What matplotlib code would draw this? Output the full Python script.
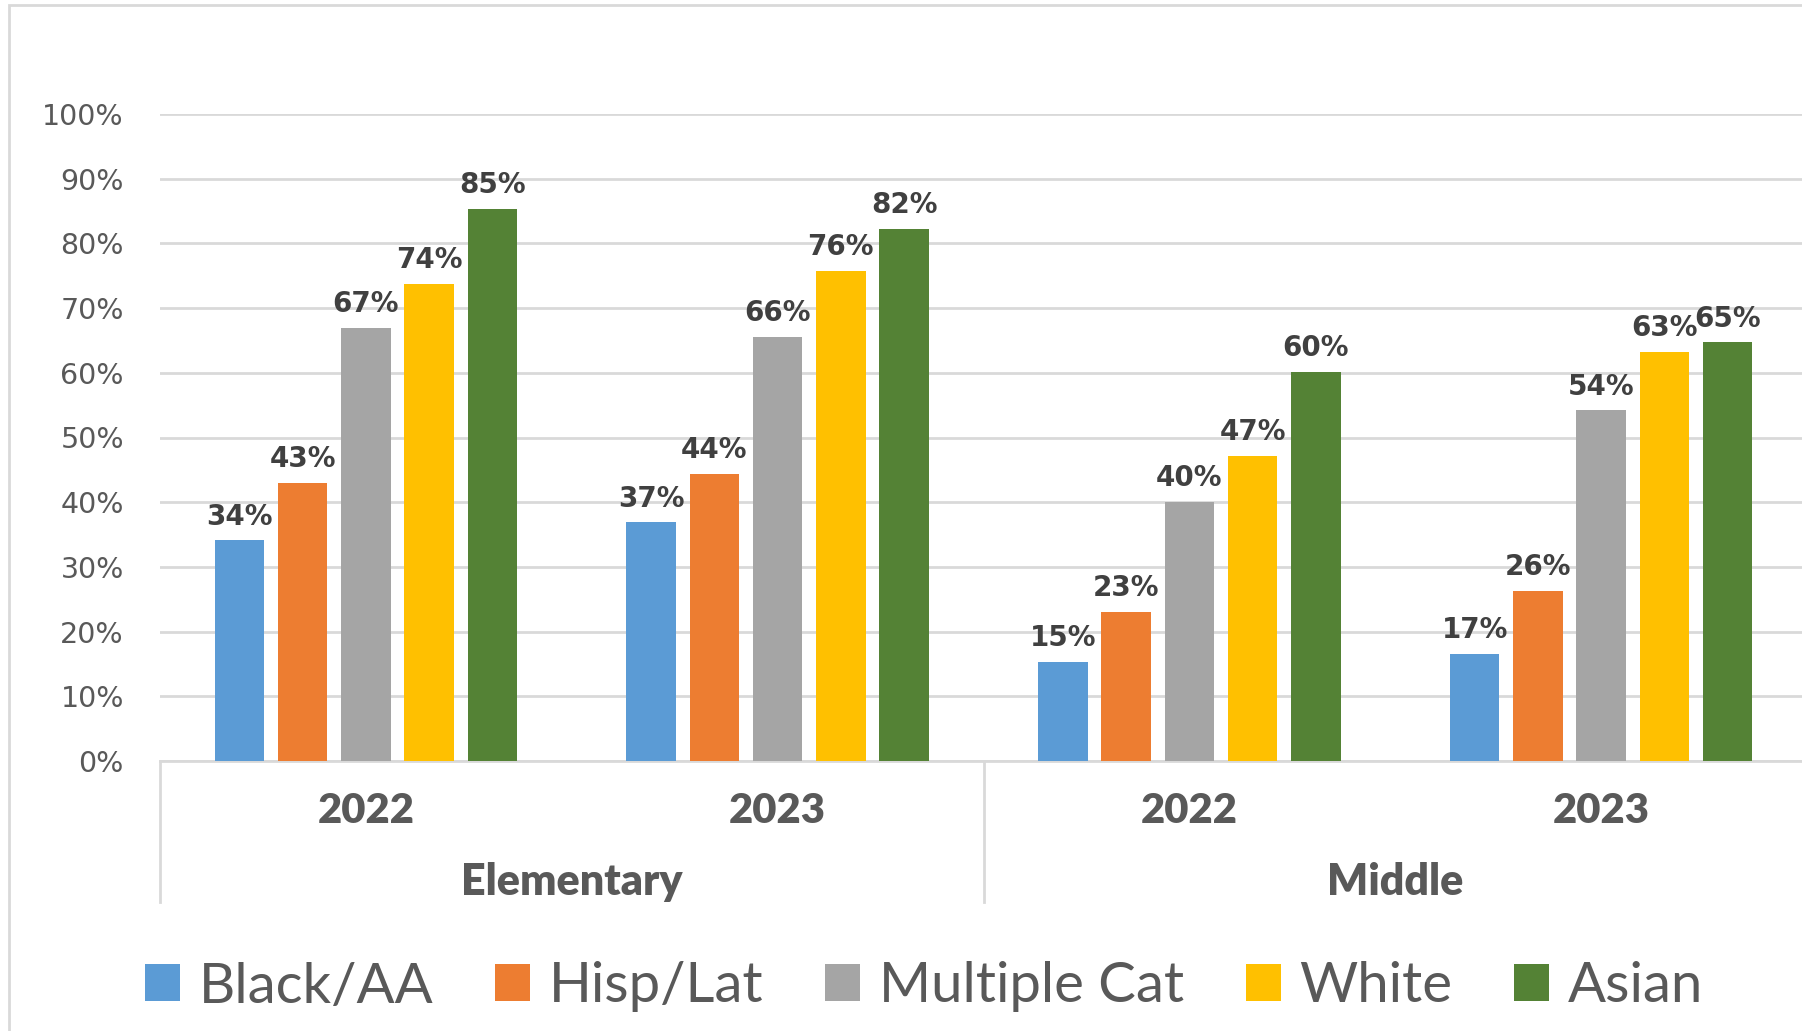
import numpy as np
import matplotlib
matplotlib.use("Agg")
import matplotlib.pyplot as plt
from matplotlib.patches import Rectangle

years = ["2022", "2023", "2022", "2023"]
levels = ["Elementary", "Middle"]
groups = ["Black/AA", "Hisp/Lat", "Multiple Cat", "White", "Asian"]
colors = ["#5B9BD5", "#ED7D31", "#A5A5A5", "#FFC000", "#548235"]

black_aa = [34.1, 36.9, 15.3, 16.6]
hisp_lat = [43.0, 44.4, 23.1, 26.3]
multiple = [67.0, 65.5, 40.1, 54.2]
white = [73.7, 75.7, 47.2, 63.2]
asian = [85.3, 82.2, 60.2, 64.7]

series = [black_aa, hisp_lat, multiple, white, asian]

W, H = 1802, 1031
fig = plt.figure(figsize=(W / 100, H / 100), dpi=100)
ax = fig.add_axes([160 / W, 1 - 761 / H, 1647 / W, (761 - 114) / H])

x = np.arange(len(years))
step = 0.1536
bw = 0.12
for i, (vals, name, c) in enumerate(zip(series, groups, colors)):
    pos = x + (i - 2) * step
    bars = ax.bar(pos, vals, width=bw, color=c, label=name, zorder=3)
    for b, v in zip(bars, vals):
        ax.annotate(f"{round(v)}%", (b.get_x() + b.get_width() / 2, v),
                    xytext=(0, 7), textcoords="offset points",
                    ha="center", va="bottom", fontsize=20, fontweight="bold",
                    color="#404040", zorder=4)

ax.set_xlim(-0.5, 3.5)
ax.set_ylim(0, 100)
ax.set_yticks(np.arange(0, 101, 10))
ax.set_yticklabels([f"{t}%" for t in range(0, 101, 10)])
ax.tick_params(axis="y", length=0, pad=26, labelsize=20.5, labelcolor="#595959")
ax.set_xticks([])
ax.yaxis.grid(True, color="#D9D9D9", linewidth=2, zorder=0)
ax.set_axisbelow(True)
for s in ["top", "right", "left"]:
    ax.spines[s].set_visible(False)
ax.spines["bottom"].set_color("#D9D9D9")
ax.spines["bottom"].set_linewidth(2)

# category labels (years + level)
for xi, yr in zip(x, years):
    ax.text(xi, 1 - (811 - 114) / (761 - 114), yr, transform=ax.get_xaxis_transform(),
            ha="center", va="center", fontsize=30, fontweight="heavy",
            color="#595959", family="Lato")
for k, lv in enumerate(levels):
    ax.text(2 * k + 0.5, 1 - (882 - 114) / (761 - 114), lv, transform=ax.get_xaxis_transform(),
            ha="center", va="center", fontsize=31, fontweight="heavy",
            color="#595959", family="Lato")
sep_bottom = 1 - (902 - 114) / (761 - 114)
for xs in [-0.5, 1.5, 3.5]:
    ax.plot([xs, xs], [0, sep_bottom], transform=ax.get_xaxis_transform(),
            color="#D9D9D9", linewidth=2, clip_on=False)

# chart border
fig.patches.append(Rectangle((9 / W, -0.02), 1.1, 1 - 5 / H + 0.02,
                             transform=fig.transFigure, fill=False,
                             edgecolor="#D9D9D9", linewidth=2))

leg = fig.legend(loc="center", bbox_to_anchor=(924 / W, 1 - 987 / H), ncol=5,
                 frameon=False, prop={"family": "Lato", "size": 40.5},
                 handlelength=0.62, handleheight=0.62, handletextpad=0.33,
                 columnspacing=1.1, labelcolor="#595959")

fig.savefig("out.png", dpi=100)
